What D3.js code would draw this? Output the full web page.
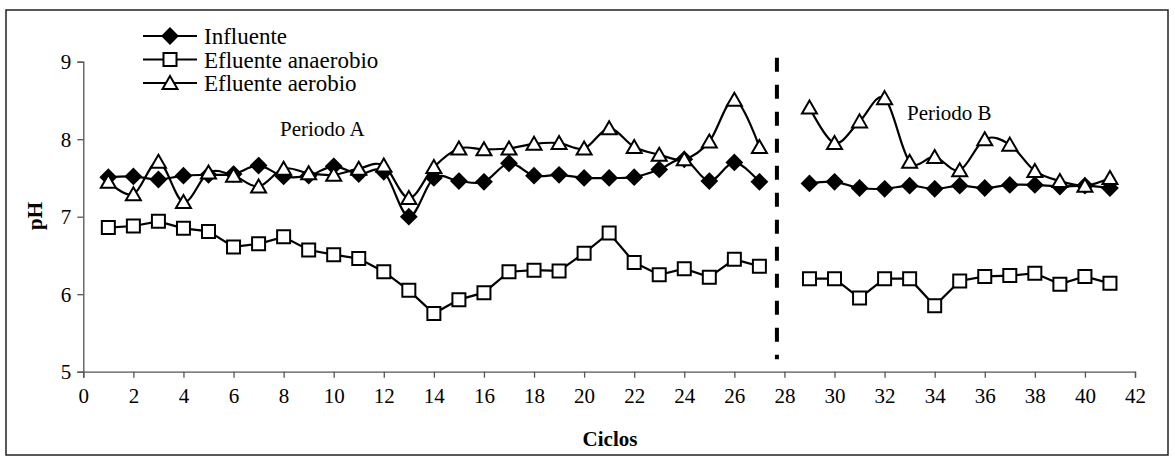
<!DOCTYPE html>
<html>
<head>
<meta charset="utf-8">
<script src="https://cdn.jsdelivr.net/npm/d3@7"></script>
<style>
  body { margin: 0; background: #fff; }
  text { font-family: "Liberation Serif", "Times New Roman", serif; fill: #000; }
</style>
</head>
<body>
<div id="graph"></div>
<script>
// data
let ciclos = [1,2,3,4,5,6,7,8,9,10,11,12,13,14,15,16,17,18,19,20,21,22,23,24,25,26,27,
              29,30,31,32,33,34,35,36,37,38,39,40,41];
let influente = [7.51,7.52,7.48,7.53,7.54,7.55,7.66,7.52,7.53,7.65,7.55,7.58,7.00,7.50,7.46,7.45,7.69,7.53,7.54,7.50,7.50,7.51,7.61,7.74,7.46,7.70,7.45,
                 7.43,7.45,7.37,7.36,7.40,7.36,7.40,7.37,7.41,7.41,7.39,7.40,7.37];
let anaerobio = [6.86,6.88,6.94,6.85,6.81,6.61,6.65,6.74,6.57,6.51,6.46,6.29,6.05,5.75,5.93,6.02,6.29,6.31,6.30,6.53,6.79,6.41,6.25,6.33,6.22,6.45,6.36,
                 6.20,6.20,5.95,6.20,6.20,5.85,6.17,6.23,6.24,6.27,6.13,6.23,6.14];
let aerobio = [7.45,7.29,7.71,7.19,7.57,7.53,7.39,7.62,7.56,7.54,7.62,7.66,7.24,7.64,7.88,7.87,7.88,7.94,7.95,7.88,8.14,7.90,7.80,7.74,7.97,8.51,7.90,
               8.41,7.95,8.23,8.53,7.71,7.77,7.60,8.00,7.93,7.59,7.46,7.40,7.50];
let seriesNames = ["Influente", "Efluente anaerobio", "Efluente aerobio"];
let xTicks = [0,2,4,6,8,10,12,14,16,18,20,22,24,26,28,30,32,34,36,38,40,42];
let yTicks = [5,6,7,8,9];
let cambioPeriodo = 27.7;

const WIDTH = 1175, HEIGHT = 463;

let svg = d3.select("div#graph")
    .append("svg")
    .attr("width", WIDTH)
    .attr("height", HEIGHT);

// outer frame
svg.append("rect")
    .attr("x", 6).attr("y", 10)
    .attr("width", 1162).attr("height", 445)
    .attr("fill", "none")
    .attr("stroke", "#222")
    .attr("stroke-width", 1.5);

let x = d3.scaleLinear().domain([0, 42]).range([83.3, 1135]);
let y = d3.scaleLinear().domain([5, 9]).range([371.7, 61.7]);

// y axis
let yAxis = svg.append("g")
    .attr("transform", `translate(${x(0)},0)`)
    .call(d3.axisLeft(y).tickValues(yTicks).tickSize(6).tickPadding(6).tickFormat(d3.format("d")));
yAxis.selectAll("text").style("font-size", "21px").attr("dy", "0.34em");

// x axis
let xAxis = svg.append("g")
    .attr("transform", `translate(0,${y(5)})`)
    .call(d3.axisBottom(x).tickValues(xTicks).tickSize(6).tickPadding(10).tickFormat(d3.format("d")));
xAxis.selectAll("text").style("font-size", "21px");

svg.selectAll(".domain, .tick line")
    .attr("stroke", "#555")
    .attr("stroke-width", 1.3);
svg.selectAll(".tick text").attr("fill", "#000");

// period separator
svg.append("line")
    .attr("x1", x(cambioPeriodo)).attr("x2", x(cambioPeriodo))
    .attr("y1", y(9.05)).attr("y2", y(5.16))
    .attr("stroke", "#000")
    .attr("stroke-width", 4)
    .attr("stroke-dasharray", "14,13");

// markers
const diamond = "M0,-7.5L7.5,0L0,7.5L-7.5,0Z";
const square = "M-6.5,-6.5H6.5V6.5H-6.5Z";
const triangle = "M0,-7L7.5,6L-7.5,6Z";

let series = [
    {name: seriesNames[0], values: influente, shape: diamond, fill: "#000", curve: d3.curveCardinal.tension(0)},
    {name: seriesNames[1], values: anaerobio, shape: square, fill: "#fff", curve: d3.curveLinear},
    {name: seriesNames[2], values: aerobio, shape: triangle, fill: "#fff", curve: d3.curveCardinal.tension(0)}
];

let plot = svg.append("g");

series.forEach(function(s) {
    let pts = ciclos.map(function(c, i) { return [c, s.values[i]]; });
    let line = d3.line()
        .x(function(d) { return x(d[0]); })
        .y(function(d) { return y(d[1]); })
        .curve(s.curve);
    [pts.filter(function(d) { return d[0] < cambioPeriodo; }),
     pts.filter(function(d) { return d[0] > cambioPeriodo; })].forEach(function(seg) {
        plot.append("path")
            .attr("d", line(seg))
            .attr("fill", "none")
            .attr("stroke", "#000")
            .attr("stroke-width", 2.2);
    });
    s.pts = pts;
});

series.forEach(function(s) {
    plot.selectAll(null)
        .data(s.pts)
        .enter()
        .append("path")
        .attr("d", s.shape)
        .attr("transform", function(d) { return `translate(${x(d[0])},${y(d[1])})`; })
        .attr("fill", s.fill)
        .attr("stroke", "#000")
        .attr("stroke-width", 2);
});

// legend
let legend = svg.append("g");
series.forEach(function(s, i) {
    let ly = 36 + i * 23.5;
    legend.append("line")
        .attr("x1", 143).attr("x2", 197)
        .attr("y1", ly).attr("y2", ly)
        .attr("stroke", "#000")
        .attr("stroke-width", 2.2);
    legend.append("path")
        .attr("d", s.shape)
        .attr("transform", `translate(170,${ly})`)
        .attr("fill", s.fill)
        .attr("stroke", "#000")
        .attr("stroke-width", 2);
    legend.append("text")
        .attr("x", 204).attr("y", ly)
        .attr("dy", "0.35em")
        .style("font-size", "23px")
        .text(s.name);
});

// annotations
svg.append("text")
    .attr("x", 280).attr("y", 136)
    .style("font-size", "21px")
    .text("Periodo A");

svg.append("text")
    .attr("x", 907).attr("y", 120)
    .style("font-size", "21px")
    .text("Periodo B");

// axis titles
svg.append("text")
    .attr("transform", "translate(42,216) rotate(-90)")
    .style("text-anchor", "middle")
    .style("font-size", "21px")
    .style("font-weight", "bold")
    .text("pH");

svg.append("text")
    .attr("x", 610).attr("y", 446)
    .style("text-anchor", "middle")
    .style("font-size", "21px")
    .style("font-weight", "bold")
    .text("Ciclos");
</script>
</body>
</html>
